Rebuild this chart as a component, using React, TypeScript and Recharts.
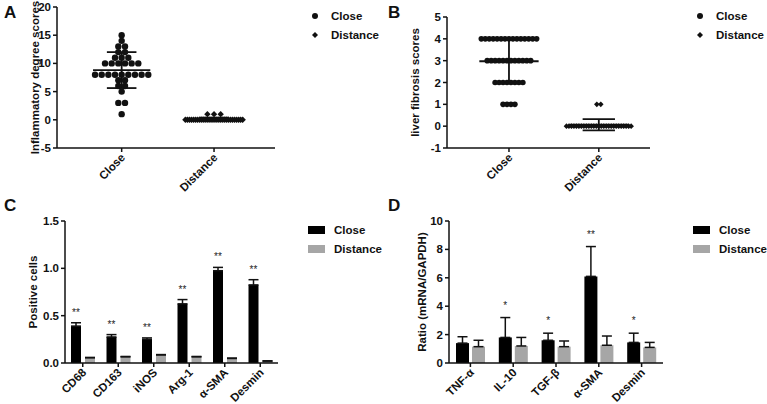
import React from 'react';
import {
  ScatterChart, Scatter, XAxis, YAxis, ReferenceLine, Legend, Label,
  BarChart, Bar, ErrorBar, LabelList,
} from 'recharts';

const groups = ['Close', 'Distance'];

// A: inflammatory degree scores
const inflamClose = [15, 14, 13, 13, 12, 12, 11, 11, 11, 10, 10, 10, 10, 10, 10, 8, 8, 8, 8, 8, 8, 8, 8, 8, 7, 7, 6, 6, 5, 3, 3, 1];
const inflamDistance = [0, 0, 0, 0, 0, 0, 0, 0, 0, 0, 0, 0, 0, 0, 0, 0, 0, 0, 0, 0, 0, 0, 0, 0, 0, 0, 0, 0, 0, 1, 1, 1];
const inflamTicks = [-5, 0, 5, 10, 15, 20];

// B: liver fibrosis scores
const fibrosisClose = [4, 4, 4, 4, 4, 4, 4, 4, 4, 4, 4, 4, 4, 4, 4, 3, 3, 3, 3, 3, 3, 3, 3, 3, 3, 3, 3, 2, 2, 2, 2, 2, 2, 2, 2, 1, 1, 1, 1];
const fibrosisDistance = [0, 0, 0, 0, 0, 0, 0, 0, 0, 0, 0, 0, 0, 0, 0, 0, 0, 0, 0, 0, 0, 0, 0, 0, 0, 0, 0, 1, 1];
const fibrosisTicks = [-1, 0, 1, 2, 3, 4, 5];

// C: positive cells
const cellMarkers = ['CD68', 'CD163', 'iNOS', 'Arg-1', 'α-SMA', 'Desmin'];
const cellClose = [0.39, 0.275, 0.25, 0.625, 0.975, 0.825];
const cellCloseErr = [0.035, 0.025, 0.015, 0.045, 0.035, 0.055];
const cellDistance = [0.055, 0.065, 0.085, 0.065, 0.048, 0.02];
const cellDistanceErr = [0.004, 0.004, 0.004, 0.004, 0.004, 0.003];
const cellStars = ['**', '**', '**', '**', '**', '**'];
const cellTicks = [0, 0.5, 1.0, 1.5];

// D: mRNA ratio
const genes = ['TNF-α', 'IL-10', 'TGF-β', 'α-SMA', 'Desmin'];
const geneClose = [1.4, 1.8, 1.6, 6.1, 1.45];
const geneCloseErr = [0.45, 1.4, 0.5, 2.1, 0.65];
const geneDistance = [1.15, 1.2, 1.15, 1.25, 1.1];
const geneDistanceErr = [0.45, 0.6, 0.4, 0.65, 0.35];
const geneStars = ['', '*', '*', '**', '*'];
const geneTicks = [0, 2, 4, 6, 8, 10];

const FONT = '"Liberation Sans", Arial, sans-serif';
const INK = '#111';
const GREY = '#a6a6a6';

const mean = (a: number[]) => a.reduce((s, v) => s + v, 0) / a.length;
const sd = (a: number[]) => {
  const m = mean(a);
  return Math.sqrt(a.reduce((s, v) => s + (v - m) ** 2, 0) / (a.length - 1));
};

// spread equal values sideways around the group centre, like a prism dot plot
function swarm(values: number[], center: number, step: number, maxWidth: number) {
  const counts = new Map<number, number>();
  values.forEach((v) => counts.set(v, (counts.get(v) || 0) + 1));
  const seen = new Map<number, number>();
  return values.map((v) => {
    const n = counts.get(v)!;
    const i = seen.get(v) || 0;
    seen.set(v, i + 1);
    const s = n > 1 ? Math.min(step, maxWidth / (n - 1)) : 0;
    return { x: center + (i - (n - 1) / 2) * s, y: v };
  });
}

const axisProps = {
  stroke: INK,
  strokeWidth: 1.5,
  tickSize: 4,
  tick: { fill: INK, fontSize: 11.5, fontWeight: 'bold', fontFamily: FONT },
};

const titleStyle = { textAnchor: 'middle', fontFamily: FONT, fontSize: 11.5, fontWeight: 'bold', fill: INK } as any;

const SlantTick = (props: any) => {
  const { x, y, payload, names } = props;
  const text = names ? names[payload.value - 1] : payload.value;
  return (
    <g transform={`translate(${x},${y})`}>
      <text x={0} y={0} dy={6} textAnchor="end" transform="rotate(-45)"
        fontSize={11.5} fontWeight="bold" fontFamily={FONT} fill={INK}>
        {text}
      </text>
    </g>
  );
};

const Dot = (p: any) => <circle cx={p.cx} cy={p.cy} r={p.r ?? 3} fill={INK} />;
const Diamond = (p: any) => {
  const r = p.r ?? 3;
  return <polygon points={`${p.cx},${p.cy - r} ${p.cx + r},${p.cy} ${p.cx},${p.cy + r} ${p.cx - r},${p.cy}`} fill={INK} />;
};

const MarkerLegend = () => (
  <div style={{ fontFamily: FONT, fontWeight: 'bold', fontSize: 11.5, color: INK }}>
    {groups.map((g, i) => (
      <div key={g} style={{ display: 'flex', alignItems: 'center', height: 19 }}>
        <svg width={21} height={10}>
          {i === 0 ? <circle cx={5} cy={5} r={3} fill={INK} /> : <polygon points="5,2 8,5 5,8 2,5" fill={INK} />}
        </svg>
        <span>{g}</span>
      </div>
    ))}
  </div>
);

const BoxLegend = () => (
  <div style={{ fontFamily: FONT, fontWeight: 'bold', fontSize: 11.5, color: INK }}>
    {groups.map((g, i) => (
      <div key={g} style={{ display: 'flex', alignItems: 'center', height: 19 }}>
        <svg width={26} height={10}>
          <rect x={0} y={1} width={17} height={8} fill={i === 0 ? '#000' : GREY} />
        </svg>
        <span>{g}</span>
      </div>
    ))}
  </div>
);

const PanelTag = ({ text, left, top }: { text: string; left: number; top: number }) => (
  <div style={{ position: 'absolute', left, top, fontFamily: FONT, fontWeight: 'bold', fontSize: 17, color: INK }}>
    {text}
  </div>
);

interface DotPanelProps {
  close: number[];
  distance: number[];
  ticks: number[];
  domainX: [number, number];
  title: string;
  titleX: number;
  r: number;
  step: number;
  meanHalf: number;
  sdHalf: number;
  height: number;
  width: number;
  rightMargin: number;
  top: number;
  legendLeft: number;
  spread: number;
}

const DotPanel = (p: DotPanelProps) => {
  const closePts = swarm(p.close, 1, p.step, p.spread);
  const distPts = swarm(p.distance, 2, p.step, p.spread);
  const lines: any[] = [];
  [p.close, p.distance].forEach((vals, gi) => {
    const c = gi + 1;
    const m = mean(vals);
    const s = sd(vals);
    lines.push([{ x: c - p.meanHalf, y: m }, { x: c + p.meanHalf, y: m }]);
    lines.push([{ x: c, y: m - s }, { x: c, y: m + s }]);
    lines.push([{ x: c - p.sdHalf, y: m + s }, { x: c + p.sdHalf, y: m + s }]);
    lines.push([{ x: c - p.sdHalf, y: m - s }, { x: c + p.sdHalf, y: m - s }]);
  });
  return (
    <ScatterChart width={p.width} height={p.height} margin={{ top: p.top, right: p.rightMargin, bottom: 0, left: 0 }}>
      <XAxis type="number" dataKey="x" domain={p.domainX} ticks={[1, 2]} allowDataOverflow
        {...axisProps} height={52} tick={<SlantTick names={groups} />} />
      <YAxis type="number" dataKey="y" domain={[p.ticks[0], p.ticks[p.ticks.length - 1]]}
        ticks={p.ticks} width={57} {...axisProps}>
        <Label value={p.title} angle={-90} position="insideLeft" offset={p.titleX} style={titleStyle} />
      </YAxis>
      <Scatter name="Close" data={closePts} shape={(s: any) => <Dot {...s} r={p.r} />} isAnimationActive={false} />
      <Scatter name="Distance" data={distPts} shape={(s: any) => <Diamond {...s} r={p.r} />} isAnimationActive={false} />
      {lines.map((seg, i) => (
        <ReferenceLine key={i} segment={seg} stroke={INK} strokeWidth={1.8} ifOverflow="visible" />
      ))}
      <Legend layout="vertical" align="center" verticalAlign="middle" content={<MarkerLegend />}
        wrapperStyle={{ left: p.legendLeft, top: 6, width: 80 }} />
    </ScatterChart>
  );
};

interface BarPanelProps {
  names: string[];
  close: number[];
  closeErr: number[];
  distance: number[];
  distanceErr: number[];
  stars: string[];
  ticks: number[];
  title: string;
  titleX: number;
  width: number;
  rightMargin: number;
  yWidth: number;
  barSize: number;
  barGap: number;
  starGap: number;
  fmt: (v: number) => string;
  legendLeft: number;
}

const BarPanel = (p: BarPanelProps) => {
  const rows = p.names.map((n, i) => ({
    name: n,
    close: p.close[i],
    closeErr: [0, p.closeErr[i]],
    distance: p.distance[i],
    distanceErr: [0, p.distanceErr[i]],
    star: p.stars[i],
  }));
  const StarLabel = (l: any) => {
    const i = l.index;
    if (i == null || !p.stars[i]) return null;
    const k = l.height / p.close[i];
    const top = l.y - p.closeErr[i] * k;
    return (
      <text x={l.x + l.width / 2} y={top - p.starGap} textAnchor="middle"
        fontSize={10} fontFamily={FONT} fill="#222">{p.stars[i]}</text>
    );
  };
  return (
    <BarChart width={p.width} height={204} data={rows} barSize={p.barSize} barGap={p.barGap}
      margin={{ top: 21, right: p.rightMargin, bottom: 0, left: 0 }}>
      <XAxis dataKey="name" {...axisProps} height={41} tick={<SlantTick />} interval={0} />
      <YAxis domain={[p.ticks[0], p.ticks[p.ticks.length - 1]]} ticks={p.ticks} width={p.yWidth}
        tickFormatter={p.fmt} {...axisProps}>
        <Label value={p.title} angle={-90} position="insideLeft" offset={p.titleX} style={titleStyle} />
      </YAxis>
      <Bar dataKey="close" name="Close" fill="#000" isAnimationActive={false}>
        <ErrorBar dataKey="closeErr" direction="y" width={5} stroke={INK} strokeWidth={1.5} />
        <LabelList dataKey="star" content={StarLabel} />
      </Bar>
      <Bar dataKey="distance" name="Distance" fill={GREY} isAnimationActive={false}>
        <ErrorBar dataKey="distanceErr" direction="y" width={5} stroke={INK} strokeWidth={1.5} />
      </Bar>
      <Legend layout="vertical" align="center" verticalAlign="middle" content={<BoxLegend />}
        wrapperStyle={{ left: p.legendLeft, top: 20, width: 80 }} />
    </BarChart>
  );
};

export default function App() {
  return (
    <div style={{ position: 'absolute', left: 0, top: 0, width: 767, height: 404, background: '#fff', overflow: 'hidden' }}>
      <div style={{ position: 'absolute', left: 0, top: 0 }}>
        <DotPanel close={inflamClose} distance={inflamDistance} ticks={inflamTicks}
          domainX={[0.3, 2.66]} title="Inflammatory degree scores" titleX={35}
          r={3.2} step={0.072} spread={0.62} meanHalf={0.31} sdHalf={0.16}
          width={390} height={200} top={7} rightMargin={115} legendLeft={310} />
      </div>
      <div style={{ position: 'absolute', left: 390, top: 0 }}>
        <DotPanel close={fibrosisClose} distance={fibrosisDistance} ticks={fibrosisTicks}
          domainX={[0.31, 2.57]} title="liver fibrosis scores" titleX={25}
          r={2.8} step={0.044} spread={0.72} meanHalf={0.33} sdHalf={0.18}
          width={377} height={200} top={17} rightMargin={117} legendLeft={305} />
      </div>
      <div style={{ position: 'absolute', left: 0, top: 200 }}>
        <BarPanel names={cellMarkers} close={cellClose} closeErr={cellCloseErr}
          distance={cellDistance} distanceErr={cellDistanceErr} stars={cellStars}
          ticks={cellTicks} title="Positive cells" titleX={33} width={390} rightMargin={112}
          yWidth={65} barSize={10} barGap={4} starGap={7} fmt={(v) => v.toFixed(1)} legendLeft={308} />
      </div>
      <div style={{ position: 'absolute', left: 390, top: 200 }}>
        <BarPanel names={genes} close={geneClose} closeErr={geneCloseErr}
          distance={geneDistance} distanceErr={geneDistanceErr} stars={geneStars}
          ticks={geneTicks} title="Ratio (mRNA/GAPDH)" titleX={32} width={377} rightMargin={104}
          yWidth={59} barSize={13} barGap={3} starGap={9} fmt={(v) => String(v)} legendLeft={303} />
      </div>
      <PanelTag text="A" left={4} top={3} />
      <PanelTag text="B" left={388} top={3} />
      <PanelTag text="C" left={4} top={196} />
      <PanelTag text="D" left={388} top={196} />
    </div>
  );
}
